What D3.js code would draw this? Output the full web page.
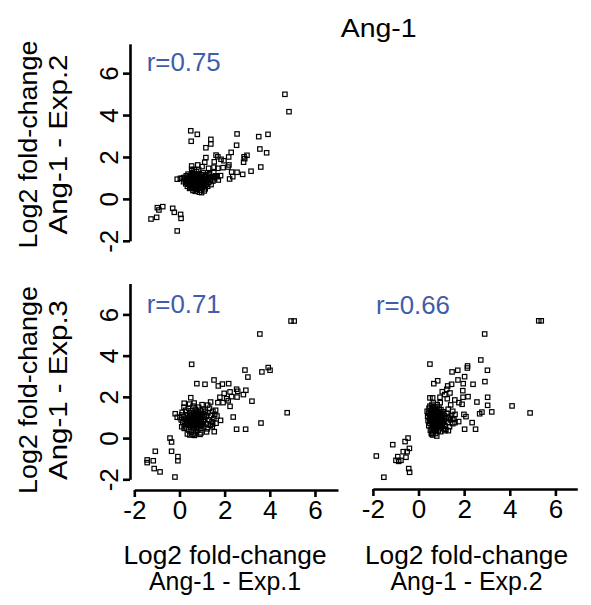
<!DOCTYPE html>
<html><head><meta charset="utf-8">
<script src="https://cdn.jsdelivr.net/npm/d3@7"></script>
<style>
html,body{margin:0;padding:0;background:#fff;}
svg text{font-family:"Liberation Sans",Arial,sans-serif;}
</style></head>
<body><svg id="c" width="591" height="605"></svg>
<script>
// ---------- data ----------
const title = "Ang-1";
const xLabels = [["Log2 fold-change","Ang-1 - Exp.1"],["Log2 fold-change","Ang-1 - Exp.2"]];
const yLabels = [["Log2 fold-change","Ang-1 - Exp.2"],["Log2 fold-change","Ang-1 - Exp.3"]];
const rValues = ["r=0.75","r=0.71","r=0.66"];
const tickValues = [-2,0,2,4,6];

// Exp.1 (x) vs Exp.2 (y)
const exp1vsExp2 = [
[4.67,4.99],[4.85,4.16],[-1.26,-0.96],[-1.01,-0.88],[-0.98,-0.42],[-0.91,-0.53],[-0.74,-0.37],[-0.30,-0.45],[-0.23,-0.64],[0.05,-0.74],[0.07,-0.93],[-0.10,-1.53],
[0.50,3.25],[0.79,3.08],[0.52,2.75],[1.39,2.84],[1.39,2.62],[1.17,2.44],[2.55,3.10],[3.92,3.08],[3.51,2.97],[2.53,2.56],[3.56,2.38],[3.86,2.20],[2.29,2.22],[2.18,2.00],[1.62,2.09],[1.70,2.01],[1.17,1.97],[2.86,2.01],[2.99,2.08],[2.89,1.92],[2.84,1.75],[1.84,1.89],[1.97,1.82],[1.54,1.77],[1.12,1.75],[1.93,1.49],[2.19,1.62],[2.15,1.52],[1.53,1.51],[1.70,1.46],[3.60,1.52],[3.17,1.32],[2.80,1.17],[2.55,1.27],[2.31,1.28],[2.36,1.06],[2.22,0.95],[1.82,1.11],[1.72,0.90],[1.67,1.06],[1.54,1.03],[0.54,1.57],[0.54,1.41],[0.81,1.62],[1.00,1.54],[1.29,1.46],[1.31,1.14],[0.04,0.98],[-0.10,0.94],
[0.12,0.98],[0.2,1.02],[0.25,0.9],[0.3,1.1],[0.33,0.8],[0.36,0.95],[0.38,1.18],[0.4,0.7],[0.42,0.88],[0.44,1.05],[0.46,0.62],[0.47,0.78],[0.49,0.93],[0.5,1.12],[0.51,0.55],[0.53,0.85],[0.54,1.0],[0.55,0.72],[0.57,1.25],[0.58,0.6],[0.6,0.9],[0.61,0.78],[0.62,1.08],[0.63,0.5],[0.64,0.68],[0.66,0.96],[0.67,0.84],[0.68,1.18],[0.7,0.58],[0.71,0.74],[0.72,1.02],[0.73,0.88],[0.74,0.45],[0.75,0.66],[0.76,1.3],[0.77,0.92],[0.78,0.8],[0.8,1.1],[0.81,0.62],[0.82,0.98],[0.83,0.72],[0.84,0.52],[0.85,0.86],[0.86,1.2],[0.88,0.7],[0.89,0.94],[0.9,0.6],[0.91,1.06],[0.92,0.8],[0.94,0.42],[0.95,0.9],[0.96,1.15],[0.97,0.66],[0.98,0.3],[1.0,0.84],[1.01,1.0],[1.02,0.56],[1.04,0.76],[1.05,1.24],[1.06,0.92],[1.08,0.64],[1.1,1.08],[1.12,0.82],[1.14,0.48],[1.15,0.98],[1.18,0.7],[1.2,1.14],[1.22,0.88],[1.25,0.6],[1.28,1.02],[1.3,0.78],[1.33,1.2],[1.36,0.92],[1.4,0.68],[1.44,1.06],[1.48,0.85],[1.52,1.25],[1.56,0.96],[1.6,1.1],[0.65,1.4],[0.55,1.35],[0.85,1.38],[0.45,0.5],[0.6,0.4],[0.7,0.36],[0.88,0.32],[1.1,0.38],[0.35,0.6],[0.28,0.72],[0.18,0.82],
[0.45,0.82],[0.52,0.7],[0.58,0.98],[0.62,0.62],[0.66,0.75],[0.69,0.9],[0.72,0.68],[0.74,0.95],[0.78,0.58],[0.79,0.72],[0.8,0.86],[0.83,0.64],[0.85,0.78],[0.87,1.0],[0.9,0.74],[0.93,0.66],[0.95,0.78],[0.98,0.95],[1.0,0.7],[1.03,0.86],[1.07,0.72],[0.56,0.84],[0.6,0.74],[0.68,0.56],[0.76,0.5],[0.92,0.5],[1.12,0.62],[0.48,1.0],[0.64,1.15],[0.82,1.1]
];

// Exp.1 (x) vs Exp.3 (y)
const exp1vsExp3 = [
[5.08,5.68],[4.94,5.68],[3.56,5.05],[0.54,3.58],[2.90,3.30],[3.03,2.96],[3.65,3.21],[3.93,3.42],[4.01,3.29],[1.53,2.82],[0.77,2.64],[1.13,2.61],[1.72,2.53],[1.90,2.62],[2.18,2.64],[2.53,2.37],[2.58,2.27],[2.94,2.32],[2.83,2.11],[2.24,2.24],[2.55,1.99],[2.31,2.01],[1.98,2.17],[1.79,1.98],[2.09,1.91],[2.16,1.81],[1.93,1.72],[1.70,1.72],[1.38,1.75],[0.50,1.96],[3.21,1.79],[2.24,1.54],[4.77,1.23],[2.38,1.02],[3.61,0.73],[2.53,0.43],[2.93,0.43],[1.54,0.31],[1.82,0.86],[1.62,0.72],[1.47,0.68],[1.66,1.07],[0.21,1.69],[-0.19,1.18],[-0.10,1.01],[0.10,1.12],[0.21,0.47],[0.46,0.15],[0.66,0.13],[0.91,0.18],
[-0.42,0.00],[-0.35,-0.19],[-0.35,-0.64],[-1.07,-0.64],[-0.07,-0.90],[-0.07,-1.10],[-1.43,-1.06],[-1.43,-1.19],[-1.16,-1.10],[-1.12,-1.48],[-0.86,-1.64],[-0.20,-1.89],
[0.02,1.0],[0.08,0.88],[0.12,1.25],[0.15,0.75],[0.18,1.05],[0.22,0.6],[0.25,0.92],[0.28,1.35],[0.3,0.5],[0.32,0.8],[0.34,1.1],[0.36,0.68],[0.38,0.98],[0.4,1.45],[0.41,0.4],[0.43,0.85],[0.45,1.2],[0.46,0.62],[0.48,1.02],[0.5,0.76],[0.51,1.32],[0.52,0.3],[0.54,0.9],[0.55,1.12],[0.56,0.55],[0.58,0.7],[0.59,1.0],[0.6,1.55],[0.62,0.82],[0.63,1.22],[0.64,0.45],[0.66,0.95],[0.67,0.62],[0.68,1.08],[0.7,1.4],[0.71,0.78],[0.72,0.25],[0.73,1.15],[0.75,0.88],[0.76,0.52],[0.77,1.28],[0.79,0.7],[0.8,1.0],[0.81,0.38],[0.83,1.2],[0.84,0.84],[0.85,1.5],[0.86,0.6],[0.88,0.95],[0.9,1.1],[0.91,0.72],[0.93,1.35],[0.94,0.48],[0.96,0.9],[0.98,1.18],[1.0,0.65],[1.02,1.02],[1.04,1.4],[1.06,0.8],[1.08,0.55],[1.1,1.12],[1.12,0.92],[1.15,1.3],[1.18,0.7],[1.2,1.05],[1.23,0.45],[1.26,1.22],[1.3,0.88],[1.33,1.45],[1.36,0.62],[1.4,1.1],[1.44,0.8],[1.48,1.3],[1.52,0.95],[1.56,1.15],[1.6,1.35],[1.25,1.6],[1.0,1.62],[0.45,1.65],[0.35,0.2],[0.6,0.18],[0.95,0.25],[1.2,0.3],[1.45,0.55],[0.2,1.5],[0.1,0.55],[0.65,1.7],
[0.4,0.9],[0.5,1.1],[0.55,0.8],[0.62,1.0],[0.68,0.85],[0.72,1.0],[0.78,0.9],[0.82,1.05],[0.88,0.78],[0.92,1.0],[0.7,0.65],[0.6,0.6],[0.85,1.2],[0.95,0.6],[0.45,0.7]
];

// Exp.2 (x) vs Exp.3 (y)
const exp2vsExp3 = [
[5.27,5.69],[5.38,5.69],[2.90,5.05],[0.50,3.59],[2.73,3.79],[3.02,3.29],[2.15,3.50],[2.14,3.40],[1.72,3.29],[1.47,3.21],[2.02,2.98],[1.73,2.82],[0.84,2.78],[0.67,2.64],[1.96,2.64],[2.39,2.61],[2.91,2.74],[1.28,2.53],[1.45,2.61],[1.24,2.37],[1.04,2.25],[1.38,2.19],[1.15,2.11],[1.94,2.30],[0.50,1.95],[0.62,1.95],[0.94,1.98],[1.95,1.98],[2.17,2.01],[3.03,1.98],[1.26,1.91],[1.59,1.85],[1.77,1.72],[1.91,1.64],[1.41,1.61],[2.56,1.75],[3.03,1.59],[4.10,1.56],[3.21,1.27],[2.78,1.26],[2.68,1.18],[4.89,1.22],[1.99,1.15],[2.08,1.04],[2.35,0.75],[2.02,0.43],[2.50,0.43],[1.76,0.80],[1.60,0.75],[1.50,0.94],[1.31,0.36],[1.16,0.36],[0.97,0.31],[0.56,0.23],[0.80,0.10],[0.62,0.15],
[-0.46,0.00],[-0.59,-0.17],[-1.13,-0.32],[-0.40,-0.50],[-0.67,-0.66],[-0.50,-0.66],[-1.85,-0.87],[-0.91,-0.90],[-0.55,-0.93],[-0.99,-1.08],[-0.77,-1.08],[-0.87,-1.13],[-0.43,-1.48],[-0.39,-1.66],[-1.52,-1.90],
[0.38,1.3],[0.4,1.05],[0.42,0.85],[0.44,1.2],[0.45,0.6],[0.46,1.45],[0.48,0.95],[0.5,0.72],[0.51,1.12],[0.52,0.38],[0.54,1.3],[0.55,0.88],[0.56,0.5],[0.57,1.02],[0.58,1.6],[0.6,0.68],[0.61,1.18],[0.62,0.92],[0.63,0.3],[0.64,1.4],[0.65,0.78],[0.66,1.06],[0.67,0.55],[0.68,1.25],[0.69,0.96],[0.7,0.42],[0.71,1.52],[0.72,0.82],[0.73,1.12],[0.74,0.64],[0.75,1.0],[0.76,1.35],[0.77,0.48],[0.78,0.9],[0.79,1.2],[0.8,0.72],[0.81,1.05],[0.82,1.62],[0.83,0.58],[0.84,0.95],[0.85,1.3],[0.86,0.8],[0.87,0.35],[0.88,1.1],[0.89,0.68],[0.9,1.45],[0.91,0.98],[0.92,0.52],[0.93,1.22],[0.94,0.85],[0.96,1.05],[0.97,0.62],[0.98,1.38],[1.0,0.9],[1.02,1.15],[1.04,0.72],[1.06,1.0],[1.08,0.45],[1.1,1.28],[1.12,0.82],[1.14,1.08],[1.16,0.6],[1.2,0.95],[1.24,1.2],[1.28,0.75],[1.32,1.02],[1.36,0.55],[1.4,0.88],[1.45,1.1],[1.5,0.7],[1.55,0.92],[1.6,1.15],[0.65,1.7],[0.95,1.72],[0.5,1.55],[0.75,0.22],[0.58,0.2],[1.2,0.42],[1.3,1.4],[1.5,1.3],
[0.55,1.0],[0.58,0.8],[0.6,1.1],[0.62,0.6],[0.64,0.88],[0.66,1.25],[0.68,0.7],[0.7,1.0],[0.72,1.38],[0.73,0.55],[0.75,0.8],[0.77,1.1],[0.78,0.65],[0.8,0.95],[0.82,1.3],[0.84,0.75],[0.86,1.0],[0.88,0.55],[0.9,0.85],[0.92,1.15],[0.95,0.75],[0.98,1.0],[1.0,0.6],[1.03,0.85],[1.06,1.2],[0.62,1.48],[0.68,0.42],[0.8,0.38],[0.5,0.85],[0.52,1.2]
];

// ---------- layout ----------
const svg = d3.select("#c");
const FONT = 25;
const TICKFONT = 26;
const BLUE = "#3F5DAA";

const xLeft  = d3.scaleLinear().domain([-2, 7.02]).range([134.3, 338]);
const xRight = d3.scaleLinear().domain([-2, 6.96]).range([372.9, 577.3]);
const yTop   = d3.scaleLinear().domain([-2, 7.4]).range([240.8, 43.8]);
const yBot   = d3.scaleLinear().domain([-2, 7.5]).range([479.3, 283.5]);

const panels = [
  {data: exp1vsExp2, x: xLeft,  y: yTop, r: rValues[0], rx: 146.7, ry: 71,
   yAxis: true, xAxis: false},
  {data: exp1vsExp3, x: xLeft,  y: yBot, r: rValues[1], rx: 146.7, ry: 313.3,
   yAxis: true, xAxis: true, xAxisY: 490},
  {data: exp2vsExp3, x: xRight, y: yBot, r: rValues[2], rx: 376, ry: 314,
   yAxis: false, xAxis: true, xAxisY: 489}
];

function styleAxis(g){
  g.selectAll("path.domain").attr("stroke","#000").attr("stroke-width",2.6);
  g.selectAll(".tick line").attr("stroke","#000").attr("stroke-width",2.6);
}
const fmt = d => String(d);

panels.forEach(p => {
  const g = svg.append("g");
  if (p.yAxis) {
    const ax = g.append("g").attr("transform","translate(130,0)")
      .call(d3.axisLeft(p.y).tickValues(tickValues).tickSize(7).tickSizeOuter(0).tickFormat(""));
    styleAxis(ax);
    ax.selectAll(".tick").append("text")
      .attr("transform","translate(-12,0) rotate(-90)")
      .attr("text-anchor","middle")
      .attr("fill","#000")
      .style("font-size", TICKFONT+"px")
      .style("font-family","Liberation Sans, Arial, sans-serif")
      .text(fmt);
  }
  if (p.xAxis) {
    const ax = g.append("g").attr("transform", `translate(0,${p.xAxisY})`)
      .call(d3.axisBottom(p.x).tickValues(tickValues).tickSize(7).tickSizeOuter(0).tickPadding(4).tickFormat(fmt));
    styleAxis(ax);
    ax.selectAll(".tick text").attr("fill","#000")
      .style("font-size", TICKFONT+"px")
      .style("font-family","Liberation Sans, Arial, sans-serif");
  }
  g.append("g").selectAll("rect").data(p.data).join("rect")
    .attr("x", d => p.x(d[0]) - 2.2)
    .attr("y", d => p.y(d[1]) - 2.2)
    .attr("width", 4.4).attr("height", 4.4)
    .attr("fill","none").attr("stroke","#000").attr("stroke-width",1.2);
  g.append("text").attr("x", p.rx).attr("y", p.ry)
    .attr("fill", BLUE).style("font-size", FONT+"px")
    .attr("textLength", 74).attr("lengthAdjust","spacingAndGlyphs")
    .text(p.r);
});

// title
svg.append("text").attr("x", 378.7).attr("y", 36.7).attr("text-anchor","middle")
  .style("font-size", FONT+"px").attr("textLength", 76).attr("lengthAdjust","spacingAndGlyphs")
  .text(title);

// x labels
const xLabelCenters = [225, 466.5];
xLabels.forEach((lines, i) => {
  [563.5, 589.5].forEach((by, j) => {
    svg.append("text").attr("x", xLabelCenters[i]).attr("y", by)
      .attr("text-anchor","middle").style("font-size", FONT+"px")
      .attr("textLength", j === 0 ? 203 : 152).attr("lengthAdjust","spacingAndGlyphs")
      .text(lines[j]);
  });
});

// y labels
const yLabelCenters = [144.5, 390];
yLabels.forEach((lines, i) => {
  [36.5, 67].forEach((bx, j) => {
    svg.append("text")
      .attr("transform", `translate(${bx},${yLabelCenters[i]}) rotate(-90)`)
      .attr("text-anchor","middle").style("font-size", FONT+"px")
      .attr("textLength", j === 0 ? 208 : 180).attr("lengthAdjust","spacingAndGlyphs")
      .text(lines[j]);
  });
});
</script></body></html>
